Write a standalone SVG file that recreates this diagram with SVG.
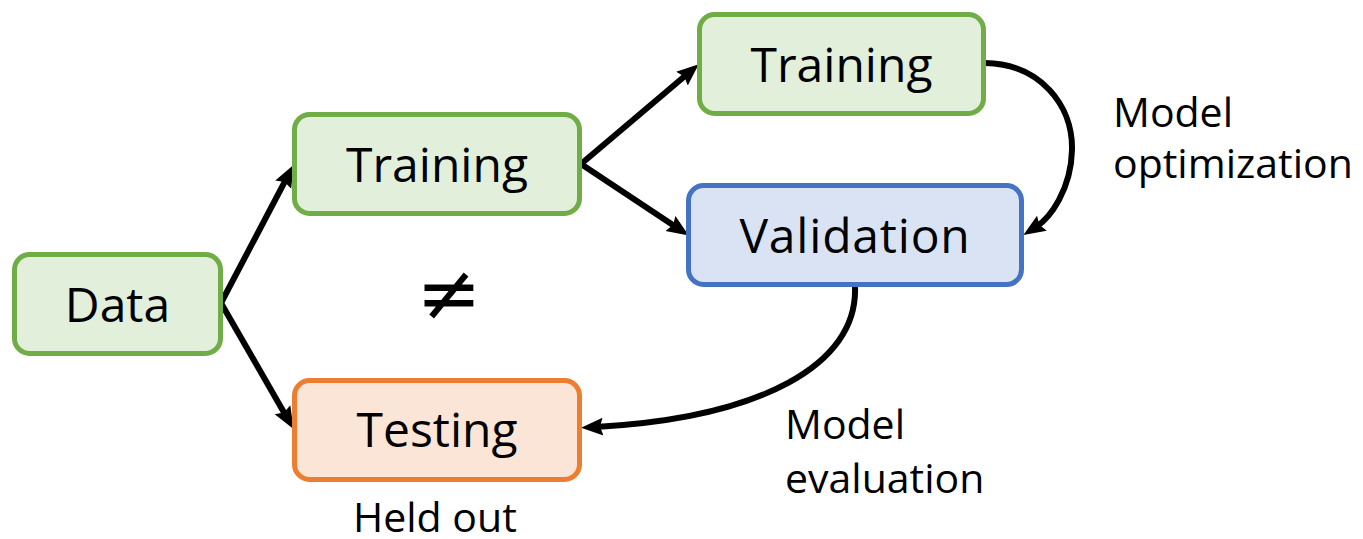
<svg xmlns="http://www.w3.org/2000/svg" width="1363" height="539" viewBox="0 0 1363 539">
  <style>
    .box { stroke-width: 5; }
    .green { fill: #E2EFDA; stroke: #70AD47; }
    .blue { fill: #DAE3F3; stroke: #4472C4; }
    .orange { fill: #FBE5D6; stroke: #ED7D31; }
    .node-text { font-family: "Open Sans", "Noto Sans", sans-serif; font-size: 48px; fill: #000; text-anchor: middle; }
    .label { font-family: "Open Sans", "Noto Sans", sans-serif; font-size: 41px; fill: #000; }
    .conn { fill: none; stroke: #000; stroke-width: 6; marker-end: url(#head); }
  </style>
  <defs>
    <marker id="head" markerUnits="userSpaceOnUse" markerWidth="24" markerHeight="20" viewBox="0 0 24 20" refX="7" refY="10" orient="auto">
      <path d="M0,1 L22,10 L0,19 L3,10 z" fill="#000"/>
    </marker>
  </defs>

  <rect width="1363" height="539" fill="#fff"/>

  <!-- connectors -->
  <g id="connectors">
    <path class="conn" d="M221,303 L286.5,178.4"/>
    <path class="conn" d="M221,303 L286,415.9"/>
    <path class="conn" d="M581,164 L687.3,74"/>
    <path class="conn" d="M581,164 L676.3,227.3"/>
    <path class="conn" d="M985,63 C1040,64 1073,105 1072,150 C1071,190 1050,218 1036,227"/>
    <path class="conn" d="M855,287 C858,365 760,418 596,427"/>
  </g>

  <!-- nodes -->
  <g id="data">
    <rect class="box green" x="14.5" y="254.5" width="206" height="99" rx="15"/>
    <text class="node-text" x="117.5" y="322">Data</text>
  </g>
  <g id="training">
    <rect class="box green" x="294.5" y="114.5" width="285" height="99" rx="15"/>
    <text class="node-text" x="437" y="182">Training</text>
  </g>
  <g id="training-fold">
    <rect class="box green" x="699.5" y="14.5" width="284" height="99" rx="15"/>
    <text class="node-text" x="841.5" y="82">Training</text>
  </g>
  <g id="validation">
    <rect class="box blue" x="688.5" y="185.5" width="333" height="99" rx="15"/>
    <text class="node-text" x="855" y="253" style="letter-spacing:0.8px">Validation</text>
  </g>
  <g id="testing">
    <rect class="box orange" x="294.5" y="380.5" width="285" height="99" rx="15"/>
    <text class="node-text" x="437" y="447">Testing</text>
  </g>

  <!-- annotations -->
  <g id="labels">
    <text class="label" x="1113" y="127">Model</text>
    <text class="label" x="1113" y="178">optimization</text>
    <text class="label" x="785" y="439">Model</text>
    <text class="label" x="785" y="493">evaluation</text>
    <text class="label" x="353" y="532">Held out</text>
    <text x="449" y="320" style="font-family:'DejaVu Sans', sans-serif; font-size:78px; text-anchor:middle">≠</text>
  </g>
</svg>
